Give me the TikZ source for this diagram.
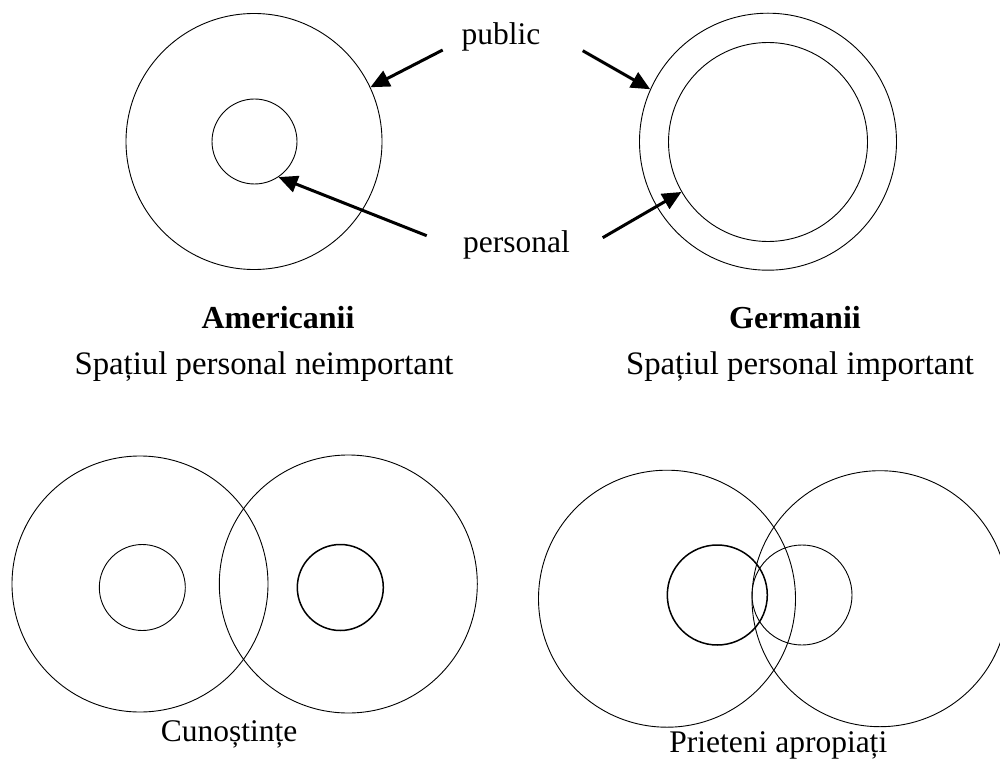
\documentclass[tikz,border=0pt]{standalone}
\usepackage{fontspec}
\setmainfont{Liberation Serif}
\usetikzlibrary{arrows.meta}
\begin{document}
\begin{tikzpicture}[x=1pt,y=-1pt,
  ring/.style={draw,circle,inner sep=0pt,line width=0.9pt,minimum size=#1},
  thickring/.style={draw,circle,inner sep=0pt,line width=1.5pt,minimum size=#1},
  lbl/.style={anchor=base,inner sep=0pt,font=\fontsize{31.5}{36}\selectfont},
  title/.style={anchor=base,inner sep=0pt,font=\fontsize{32}{36}\selectfont\bfseries},
  sub/.style={anchor=base,inner sep=0pt,font=\fontsize{32.8}{36}\selectfont},
  ptr/.style={line width=3pt,-{Triangle[length=19pt,width=17pt]}}]
\useasboundingbox (0,0) rectangle (1000,759);
\clip (0,0) rectangle (1000,759);
% Americanii
\node[ring=256pt] (bigA) at (254,141.5) {};
\node[ring=85pt] (smallA) at (254.5,141.5) {};
% Germanii
\node[ring=257pt] (outerG) at (768,141.7) {};
\node[ring=199pt] (innerG) at (768,142) {};
% labels
\node[lbl] (public) at (501,45) {public};
\node[lbl] (personal) at (516.5,252) {personal};
\coordinate (pubL) at (442.7,50);
\coordinate (pubR) at (582.7,50.7);
\coordinate (perL) at (426.7,235.7);
\coordinate (perR) at (602.7,237.7);
\draw[ptr] (pubL) -- (bigA.25);
\draw[ptr] (pubR) -- (outerG.156);
\draw[ptr] (perL) -- (smallA.-56);
\draw[ptr] (perR) -- (innerG.210);
\node[title] (am) at (278,328) {Americanii};
\node[title] (ge) at (795,328) {Germanii};
\node[sub] (amsub) at (264,374) {Spațiul personal neimportant};
\node[sub] (gesub) at (800,374) {Spațiul personal important};
% Cunostinte
\node[ring=256pt] (c1) at (140,584) {};
\node[ring=258pt] (c2) at (348.3,584) {};
\node[ring=86pt] (c1s) at (142.3,587.5) {};
\node[thickring=86pt] (c2s) at (340.3,587.5) {};
\node[lbl] (cun) at (229,741.7) {Cunoștințe};
% Prieteni
\node[ring=257pt] (p1) at (667,598.7) {};
\node[ring=256pt] (p2) at (880,598.7) {};
\node[thickring=100pt] (p1s) at (717.3,595) {};
\node[ring=100pt] (p2s) at (802,595) {};
\node[lbl] (pri) at (778.3,752.7) {Prieteni apropiați};
\end{tikzpicture}
\end{document}
